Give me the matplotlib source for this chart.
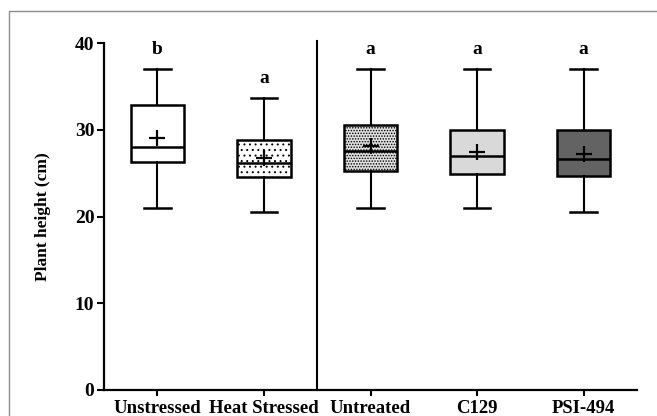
import matplotlib
matplotlib.use("Agg")
import matplotlib.pyplot as plt
from matplotlib.patches import Rectangle

plt.rcParams['font.family'] = ['Liberation Serif', 'DejaVu Serif']
plt.rcParams['font.weight'] = 'bold'
plt.rcParams['hatch.linewidth'] = 0.7

# Plant height summaries per treatment group (cm)
groups = ["Unstressed", "Heat Stressed", "Untreated", "C129", "PSI-494"]
whisker_low = [21.0, 20.5, 21.0, 21.0, 20.5]
q1 = [26.3, 24.6, 25.3, 24.9, 24.7]
median = [28.0, 26.2, 27.6, 27.0, 26.6]
q3 = [32.8, 28.8, 30.6, 30.0, 30.0]
whisker_high = [37.0, 33.7, 37.0, 37.0, 37.0]
mean = [29.0, 26.8, 28.1, 27.4, 27.2]
letters = ["b", "a", "a", "a", "a"]

face_colors = ["white", "white", "#e0e0e0", "#d9d9d9", "#636363"]
hatches = [None, "...", "......", None, None]

fig = plt.figure(figsize=(6.57, 4.16), dpi=100)
ax = fig.add_axes([104 / 657, 1 - 390 / 416, (637 - 104) / 657, (390 - 43) / 416])

stats = []
for i in range(len(groups)):
    stats.append(dict(label=groups[i], whislo=whisker_low[i], q1=q1[i],
                      med=median[i], q3=q3[i], whishi=whisker_high[i],
                      mean=mean[i]))

positions = list(range(1, len(groups) + 1))
bp = ax.bxp(stats, positions=positions, widths=0.5, patch_artist=True,
            showmeans=True, showfliers=False,
            boxprops=dict(linewidth=1.8, edgecolor="black"),
            medianprops=dict(color="black", linewidth=1.8),
            whiskerprops=dict(color="black", linewidth=1.5),
            capprops=dict(color="black", linewidth=1.8),
            meanprops=dict(marker="+", markeredgecolor="black",
                           markersize=11, markeredgewidth=1.6),
            capwidths=0.25)

for patch, fc, h in zip(bp["boxes"], face_colors, hatches):
    patch.set_facecolor(fc)
    if h:
        patch.set_hatch(h)

# significance letters above the upper whiskers
for x, top, lab in zip(positions, whisker_high, letters):
    ax.text(x, top + 2.2, lab, ha="center", va="center", fontsize=14,
            fontweight="bold", clip_on=False)

# divider between the stress and treatment comparisons
ax.plot([2.5, 2.5], [0, 40.2], color="black", linewidth=1.5, clip_on=False)

ax.set_xlim(0.5, 5.5)
ax.set_ylim(0, 40)
ax.set_yticks([0, 10, 20, 30, 40])
ax.set_xticks(positions)
ax.set_xticklabels(groups, fontsize=13.5, fontweight="bold")
ax.tick_params(axis="y", labelsize=14, length=5, width=1.5, pad=2)
ax.tick_params(axis="x", length=4, width=1.5, pad=3)
for lbl in ax.get_yticklabels():
    lbl.set_fontweight("bold")

for side in ("top", "right"):
    ax.spines[side].set_visible(False)
for side in ("left", "bottom"):
    ax.spines[side].set_linewidth(1.6)

ax.set_ylabel("Plant height (cm)", fontsize=12.5, fontweight="bold", labelpad=17)

# thin grey frame around the panel
fig.patches.append(Rectangle((9 / 657, -0.1), 1.2, 1.1 - 11 / 416,
                             transform=fig.transFigure, fill=False,
                             edgecolor="#8c8c8c", linewidth=1.0))

fig.savefig("out.png", dpi=100)
